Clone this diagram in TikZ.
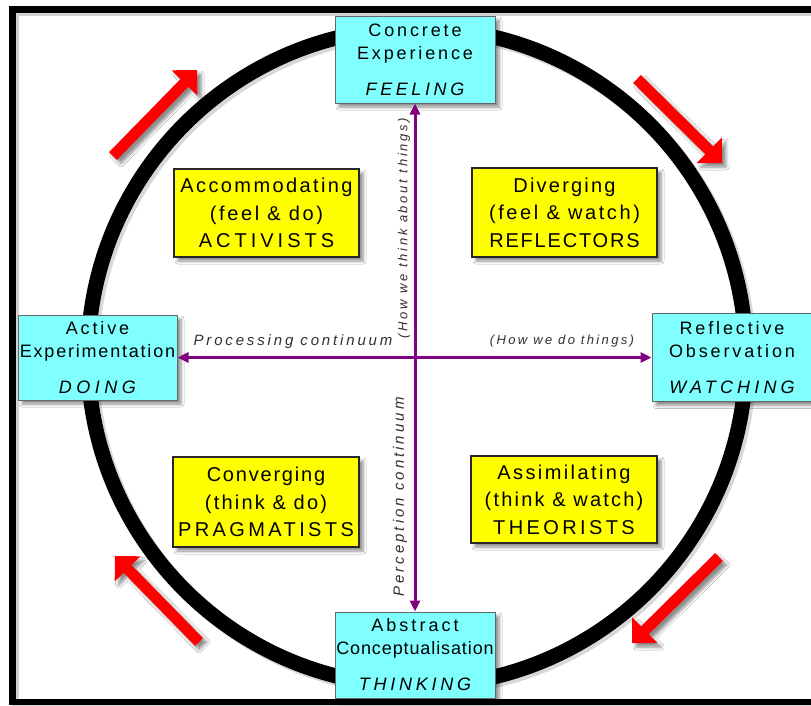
\documentclass[tikz,border=0pt]{standalone}
\usepackage{fontspec}
\setmainfont{Liberation Sans}
\usetikzlibrary{arrows.meta,calc,shadows.blur}
\definecolor{cyanfill}{HTML}{80FFFF}
\definecolor{yelfill}{HTML}{FFFF00}
\definecolor{purp}{HTML}{800080}
\definecolor{lblgray}{HTML}{303030}
\newcommand\ls[1]{\addfontfeatures{LetterSpace=#1}}
\newcommand\redarrow[3]{%
  \coordinate (#1t) at #2;
  \coordinate (#1p) at #3;
  \coordinate (#1b) at ($(#1p)!18pt!(#1t)$);
  \fill[red, shad] ($(#1t)!5.5pt!90:(#1p)$) -- ($(#1b)!5.5pt!90:(#1p)$) -- ($(#1b)!18pt!90:(#1p)$) -- (#1p)
    -- ($(#1b)!18pt!-90:(#1p)$) -- ($(#1b)!5.5pt!-90:(#1p)$) -- ($(#1t)!5.5pt!-90:(#1p)$) -- cycle;}
\begin{document}
\begin{tikzpicture}[x=1pt,y=-1pt,
  shad/.style={blur shadow={shadow xshift=4pt,shadow yshift=-4pt,shadow opacity=45,shadow blur steps=6,shadow blur radius=3pt}},
  cyanbox/.style={rectangle, fill=cyanfill, draw=gray!80!black, line width=1pt, minimum width=160pt, minimum height=87pt, inner sep=0pt, align=center, font=\fontsize{18}{23}\selectfont\addfontfeatures{LetterSpace=16}, shad},
  yelbox/.style={rectangle, fill=yelfill, draw=black!85, line width=1.2pt, minimum width=186pt, minimum height=88pt, inner sep=0pt, align=center, font=\fontsize{20}{27.5}\selectfont, shad},
  conn/.style={draw=purp, line width=3pt, {Triangle[length=11pt,width=10pt]}-{Triangle[length=11pt,width=10pt]}},
  lbl/.style={text=lblgray, font=\fontsize{15}{18}\selectfont\itshape, inner sep=0pt},
  lblsmall/.style={text=lblgray, font=\fontsize{13}{16}\selectfont\itshape, inner sep=0pt},
]
\useasboundingbox (0,0) rectangle (811,705);
\clip (0,0) rectangle (811,705);
\fill[white] (0,0) rectangle (811,705);
% frame
\draw[line width=6.5pt, gray, opacity=0.35] (15.5,12.5) rectangle (853,705);
\draw[line width=6.5pt] (12.5,9.5) rectangle (850,702);
% ring
\draw[line width=15pt, gray, opacity=0.3] (420,360) circle[radius=329];
\draw[line width=15pt] (417,357) circle[radius=329];
% red arrows
\redarrow{ra}{(113,156)}{(197,70)}
\redarrow{rb}{(637,79)}{(722,163)}
\redarrow{rc}{(719,557)}{(632,643)}
\redarrow{rd}{(199,642)}{(115,556)}
% cyan boxes
\node[cyanbox] (CE) at (415,59.5) {Concrete\\Experience\\[13pt]{\itshape\ls{20}FEELING}};
\node[cyanbox, minimum width=159pt, minimum height=85pt] (AE) at (97.5,357.5) {Active\\{\ls{10}Experimentation}\\[13pt]{\itshape\ls{25}DOING}};
\node[cyanbox, minimum height=88pt] (RO) at (732,357.5) {Reflective\\Observation\\[13pt]{\itshape\ls{23}WATCHING}};
\node[cyanbox, minimum height=86pt] (AC) at (415,655) {{\ls{17}Abstract}\\{\ls{5}Conceptualisation}\\[13pt]{\itshape\ls{21}THINKING}};
% yellow boxes
\node[yelbox, minimum width=185pt] (ACC) at (266.5,213) {{\ls{12}Accommodating}\\{\ls{13}(feel \& do)}\\{\ls{20}ACTIVISTS}};
\node[yelbox, minimum width=185pt, minimum height=89pt] (DIV) at (564.5,212.5) {{\ls{11}Diverging}\\{\ls{13}(feel \& watch)}\\{\ls{9}REFLECTORS}};
\node[yelbox, minimum height=90pt] (CONV) at (266,502) {{\ls{9}Converging}\\{\ls{11}(think \& do)}\\{\ls{17}PRAGMATISTS}};
\node[yelbox, minimum height=87pt] (ASSIM) at (564,499.5) {{\ls{12}Assimilating}\\{\ls{11}(think \& watch)}\\{\ls{17}THEORISTS}};
% continua
\draw[conn] (CE.south) -- (AC.north);
\draw[conn] (AE.east) -- (RO.west);
\node[lblsmall, rotate=90] (howthink) at (404,228) {\ls{21}(How we think about things)};
\node[lbl, rotate=90] (perc) at (400,497) {\ls{20}Perception continuum};
\node[lbl] (proc) at (293,341.5) {\ls{19}Processing continuum};
\node[lblsmall] (howdo) at (562,341) {\ls{18}(How we do things)};
\end{tikzpicture}
\end{document}
